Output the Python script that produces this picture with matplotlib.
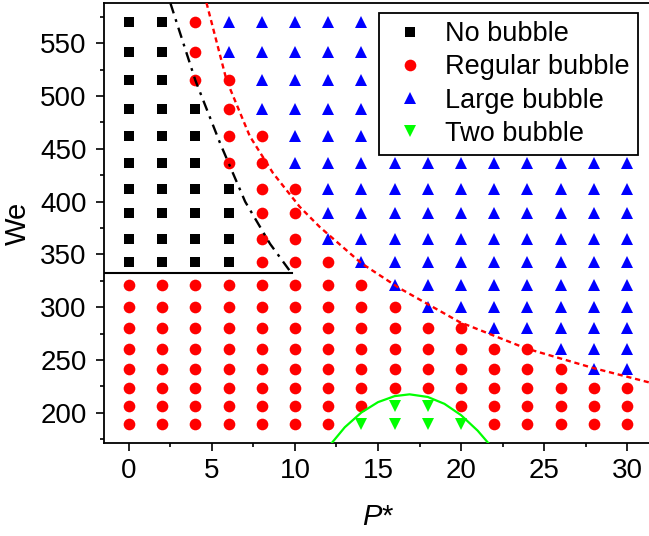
import matplotlib.pyplot as plt
from matplotlib.ticker import MultipleLocator

plt.rcParams.update({
    "font.family": "Liberation Sans",
    "font.size": 20,
    "mathtext.fontset": "custom",
    "mathtext.it": "Liberation Sans:italic",
    "mathtext.rm": "Liberation Sans",
})

# ----------------------------------------------------------------------
# Data

# P* of each column
p_vals = [0, 2, 4, 6, 8, 10, 12, 14, 16, 18, 20, 22, 24, 26, 28, 30]
# We of each row, top row first
we_vals = [570, 542, 515, 488, 462, 437, 412, 389, 365, 343,
           321, 300, 280, 260, 241, 223, 206, 189]

# regime per point: one string per We row, one letter per P* column
# S = no bubble, R = regular bubble, B = large bubble, G = two bubble
regime_rows = [
    "SSRBBBBBBBBBBBBB",
    "SSRBBBBBBBBBBBBB",
    "SSRRBBBBBBBBBBBB",
    "SSSRBBBBBBBBBBBB",
    "SSSRRBBBBBBBBBBB",
    "SSSRRBBBBBBBBBBB",
    "SSSSRRBBBBBBBBBB",
    "SSSSRRBBBBBBBBBB",
    "SSSSRRBBBBBBBBBB",
    "SSSSRRRBBBBBBBBB",
    "RRRRRRRRBBBBBBBB",
    "RRRRRRRRRBBBBBBB",
    "RRRRRRRRRRRBBBBB",
    "RRRRRRRRRRRRRBBB",
    "RRRRRRRRRRRRRRBB",
    "RRRRRRRRRRRRRRRR",
    "RRRRRRRRGGRRRRRR",
    "RRRRRRRGGGGRRRRR",
]

# regime boundaries
nobubble_we = 332            # horizontal limit of the no-bubble region
nobubble_p_end = 9.8
dashdot_p = [2.5, 4.0, 5.5, 7.0, 8.5, 9.8]
dashdot_we = [588, 515, 455, 400, 360, 332]
large_p = [4.67, 5.88, 7.28, 8.68, 10.29, 11.49, 14.0, 16.3, 19.9, 23.9, 27.9, 31.5]
large_we = [588.5, 515, 462, 427, 395, 376, 341.6, 317.9, 286, 261, 242.6, 228]
two_p = [12.2, 13.0, 14.0, 15.0, 16.0, 16.9, 18.0, 19.0, 20.0, 21.0, 21.7]
two_we = [171, 186.2, 200.2, 210, 215.7, 217.4, 214.9, 208.4, 197.7, 183, 170.2]

# ----------------------------------------------------------------------

styles = {
    "S": ("No bubble", "s", "black", 6.8),
    "R": ("Regular bubble", "o", "red", 8.4),
    "B": ("Large bubble", "^", "blue", 8.6),
    "G": ("Two bubble", "v", "#00ff00", 8.6),
}

W, H = 649, 536
fig = plt.figure(figsize=(W / 100, H / 100), dpi=100)
ax = fig.add_axes([104 / W, 1 - 443.3 / H, (652 - 104) / W, (443.3 - 2.7) / H])

for code, (label, marker, color, size) in styles.items():
    xs, ys = [], []
    for row, we in zip(regime_rows, we_vals):
        for letter, p in zip(row, p_vals):
            if letter == code:
                xs.append(p)
                ys.append(we)
    ax.plot(xs, ys, ls="none", marker=marker, color=color, ms=size,
            mew=0, label=label, zorder=2)

# Boundaries
ax.plot([-1.5, nobubble_p_end], [nobubble_we, nobubble_we], color="black",
        lw=1.5, zorder=3)
ax.plot(dashdot_p, dashdot_we, color="black", lw=1.7,
        ls=(0, (4.5, 2.6, 1.2, 2.6)), zorder=3)
ax.plot(large_p, large_we, color="red", lw=1.7, ls=(0, (2.2, 1.6)), zorder=3)
ax.plot(two_p, two_we, color="#00ff00", lw=1.6, zorder=3)

# Axes
ax.set_xlim(-1.5, 31.5)
ax.set_ylim(171, 588.5)
ax.xaxis.set_major_locator(MultipleLocator(5))
ax.xaxis.set_minor_locator(MultipleLocator(2.5))
ax.yaxis.set_major_locator(MultipleLocator(50))
ax.yaxis.set_minor_locator(MultipleLocator(25))
ax.tick_params(which="major", direction="out", length=5.5, width=1.2, pad=5,
               labelsize=20)
ax.tick_params(which="minor", direction="out", length=3, width=1.2)
ax.tick_params(axis="y", which="major", pad=7)
for side in ["left", "bottom", "top", "right"]:
    ax.spines[side].set_linewidth(1.3)

ax.set_xlabel("$P$*", fontsize=21, labelpad=14)
ax.set_ylabel("We", fontsize=21, labelpad=6)

leg = ax.legend(loc="upper right", bbox_to_anchor=(638 / W, 1 - 13.3 / H),
                bbox_transform=fig.transFigure, borderaxespad=0,
                fancybox=False, framealpha=1, edgecolor="black",
                fontsize=19.5, labelspacing=0.26, handletextpad=0.45,
                borderpad=0.3, handlelength=1.7, numpoints=1)
leg.get_frame().set_linewidth(1.3)
leg.set_zorder(5)

fig.savefig("out.png", dpi=100)
